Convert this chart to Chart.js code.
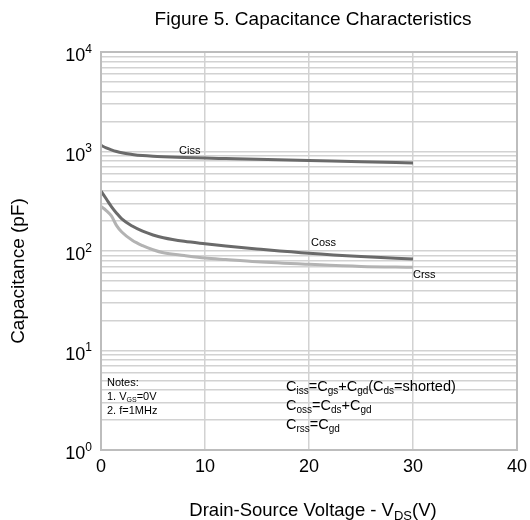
<!DOCTYPE html>
<html>
<head>
<meta charset="utf-8">
<script src="https://cdn.jsdelivr.net/npm/chart.js@4.4.1/dist/chart.umd.min.js"></script>
<style>
  html, body { margin: 0; padding: 0; background: #fff; }
  canvas { display: block; }
</style>
</head>
<body>
<canvas id="chart" width="530" height="520"></canvas>
<script>
// values
const voltage = [0, 0.5, 1, 1.5, 2, 3, 4, 5, 6, 8, 10, 12, 15, 20, 25, 30];
const ciss = [1150, 1090, 1040, 1000, 970, 935, 910, 895, 885, 870, 858, 850, 838, 813, 790, 765];
const coss = [400, 335, 280, 240, 210, 178, 158, 145, 136, 125, 118, 112, 105, 95, 88, 83];
const crss = [280, 255, 225, 180, 155, 128, 113, 103, 96, 90, 85, 82, 78, 73.5, 70, 68.5];

const xTicks = [0, 10, 20, 30, 40];
const yExponents = [0, 1, 2, 3, 4];

const FONT = '"Liberation Sans", Arial, sans-serif';
const DARK = '#6a6a6a';
const LIGHT = '#b3b3b3';
const GRID = '#d2d2d2';

const toPoints = (ys) => voltage.map((v, i) => ({ x: v, y: ys[i] }));

// grid lines at 1..9 x 10^n for every decade
const logGrid = [];
yExponents.forEach((e) => {
  if (e === yExponents[yExponents.length - 1]) {
    logGrid.push(Math.pow(10, e));
    return;
  }
  for (let m = 1; m < 10; m++) logGrid.push(m * Math.pow(10, e));
});

// draws text runs like [['C','n'],['iss','sub']]
function drawRuns(ctx, x, y, runs, size, align) {
  const small = Math.round(size * 0.68);
  const font = (s) => s + 'px ' + FONT;
  let total = 0;
  runs.forEach(([t, k]) => {
    ctx.font = font(k === 'n' ? size : small);
    total += ctx.measureText(t).width;
  });
  let cx = align === 'right' ? x - total : align === 'center' ? x - total / 2 : x;
  ctx.textAlign = 'left';
  ctx.textBaseline = 'alphabetic';
  runs.forEach(([t, k]) => {
    ctx.font = font(k === 'n' ? size : small);
    let dy = 0;
    if (k === 'sub') dy = size * 0.22;
    if (k === 'sup') dy = -size * 0.45;
    ctx.fillText(t, cx, y + dy);
    cx += ctx.measureText(t).width;
  });
}

const textPlugin = {
  id: 'figureText',
  afterDraw(chart) {
    const { ctx, chartArea: area, scales } = chart;
    const xs = scales.x, ys = scales.y;
    ctx.save();

    // frame
    ctx.strokeStyle = '#bdbdbd';
    ctx.lineWidth = 2;
    ctx.strokeRect(area.left, area.top, area.right - area.left, area.bottom - area.top);

    ctx.fillStyle = '#000';

    // title
    drawRuns(ctx, 313, 25, [['Figure 5. Capacitance Characteristics', 'n']], 19, 'center');

    // y tick labels 10^n
    yExponents.forEach((e) => {
      const py = ys.getPixelForValue(Math.pow(10, e));
      drawRuns(ctx, 92, py + 9, [['10', 'n'], [String(e), 'sup']], 18, 'right');
    });

    // x tick labels
    xTicks.forEach((v) => {
      drawRuns(ctx, xs.getPixelForValue(v), area.bottom + 22, [[String(v), 'n']], 18, 'center');
    });

    // axis titles
    drawRuns(ctx, 313, 516, [['Drain-Source Voltage - V', 'n'], ['DS', 'sub'], ['(V)', 'n']], 18.5, 'center');
    ctx.save();
    ctx.translate(24, 271);
    ctx.rotate(-Math.PI / 2);
    drawRuns(ctx, 0, 0, [['Capacitance (pF)', 'n']], 19, 'center');
    ctx.restore();

    // curve labels
    drawRuns(ctx, 179, 154, [['Ciss', 'n']], 11, 'left');
    drawRuns(ctx, 311, 246, [['Coss', 'n']], 11, 'left');
    drawRuns(ctx, 413, 278, [['Crss', 'n']], 11, 'left');

    // notes
    drawRuns(ctx, 107, 386, [['Notes:', 'n']], 11, 'left');
    drawRuns(ctx, 107, 400, [['1. V', 'n'], ['GS', 'sub'], ['=0V', 'n']], 11, 'left');
    drawRuns(ctx, 107, 414, [['2. f=1MHz', 'n']], 11, 'left');

    // capacitance definitions
    drawRuns(ctx, 286, 391, [['C', 'n'], ['iss', 'sub'], ['=C', 'n'], ['gs', 'sub'], ['+C', 'n'], ['gd', 'sub'],
      ['(C', 'n'], ['ds', 'sub'], ['=shorted)', 'n']], 14.5, 'left');
    drawRuns(ctx, 286, 410, [['C', 'n'], ['oss', 'sub'], ['=C', 'n'], ['ds', 'sub'], ['+C', 'n'], ['gd', 'sub']], 14.5, 'left');
    drawRuns(ctx, 286, 429, [['C', 'n'], ['rss', 'sub'], ['=C', 'n'], ['gd', 'sub']], 14.5, 'left');

    ctx.restore();
  }
};

const lineStyle = (color) => ({
  borderColor: color,
  borderWidth: 3,
  pointRadius: 0,
  fill: false,
  cubicInterpolationMode: 'monotone'
});

new Chart(document.getElementById('chart'), {
  type: 'line',
  data: {
    datasets: [
      { label: 'Ciss', data: toPoints(ciss), ...lineStyle(DARK) },
      { label: 'Coss', data: toPoints(coss), ...lineStyle(DARK) },
      { label: 'Crss', data: toPoints(crss), ...lineStyle(LIGHT) }
    ]
  },
  options: {
    responsive: false,
    animation: false,
    devicePixelRatio: 1,
    layout: { padding: { left: 101, right: 13, top: 52, bottom: 70 } },
    plugins: {
      legend: { display: false },
      tooltip: { enabled: false }
    },
    scales: {
      x: {
        type: 'linear',
        min: 0,
        max: 40,
        afterBuildTicks: (scale) => { scale.ticks = xTicks.map((v) => ({ value: v })); },
        afterFit: (scale) => { scale.height = 0; },
        ticks: { display: false },
        border: { display: false },
        grid: { color: GRID, lineWidth: 1.5, drawTicks: false }
      },
      y: {
        type: 'logarithmic',
        min: 1,
        max: 10000,
        afterBuildTicks: (scale) => { scale.ticks = logGrid.map((v) => ({ value: v })); },
        afterFit: (scale) => { scale.width = 0; },
        ticks: { display: false },
        border: { display: false },
        grid: { color: GRID, lineWidth: 1.5, drawTicks: false }
      }
    }
  },
  plugins: [textPlugin]
});
</script>
</body>
</html>
